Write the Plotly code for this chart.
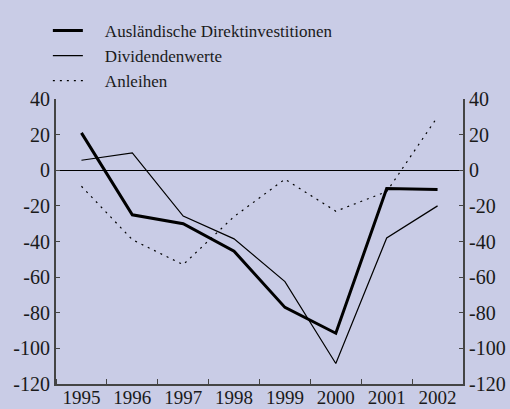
import plotly.graph_objects as go

years = [1995, 1996, 1997, 1998, 1999, 2000, 2001, 2002]
direktinvestitionen = [21, -25, -30, -45.5, -77, -91.5, -10.3, -10.8]
dividendenwerte = [5.6, 9.8, -25.7, -38.5, -62.5, -108.5, -38, -20]
anleihen = [-9, -39, -53, -26, -5, -23, -12, 30]

y_ticks = [40, 20, 0, -20, -40, -60, -80, -100, -120]
y_labels = [str(v) for v in y_ticks]  # plain hyphen for negatives

BG = "#c9cce6"
AXIS = "#444444"
FONT = "Liberation Serif, Times New Roman, serif"
PAD = "\u00a0\u00a0\u00a0\u00a0"

fig = go.Figure()
fig.add_trace(go.Scatter(x=years, y=direktinvestitionen, mode="lines",
                         name=PAD + "Ausländische Direktinvestitionen",
                         line=dict(color="black", width=3), legendgroup="a"))
fig.add_trace(go.Scatter(x=years, y=dividendenwerte, mode="lines",
                         name=PAD + "Dividendenwerte",
                         line=dict(color="black", width=1.2), legendgroup="b"))
fig.add_trace(go.Scatter(x=years, y=anleihen, mode="lines",
                         name=PAD + "Anleihen",
                         line=dict(color="black", width=1.2, dash="2px,5px"),
                         legendgroup="c"))
# anchors the right-hand value axis
fig.add_trace(go.Scatter(x=[years[0]], y=[None], yaxis="y2", mode="lines",
                         showlegend=False, hoverinfo="skip"))

tick_font = dict(family=FONT, size=20, color="#1a1a1a")
year_font = dict(family=FONT, size=19, color="#1a1a1a")

fig.update_layout(
    width=510, height=409,
    margin=dict(l=56, r=47, t=99, b=25, autoexpand=False),
    paper_bgcolor=BG, plot_bgcolor=BG,
    font=dict(family=FONT, size=17, color="#1a1a1a"),
    showlegend=True,
    legend=dict(x=-0.02, y=1.302, xanchor="left", yanchor="top",
                bgcolor="rgba(0,0,0,0)", font=dict(size=17),
                tracegroupgap=0, itemwidth=30),
    xaxis=dict(range=[1994.5, 2002.5], tickvals=years, ticktext=[str(y) for y in years],
               ticks="", showgrid=False, zeroline=False, tickfont=year_font,
               automargin=False, ticklabelstandoff=-5,
               showline=True, linecolor=AXIS, linewidth=2,
               minor=dict(tick0=1994.5, dtick=1, ticks="inside", ticklen=5,
                          tickcolor=AXIS, tickwidth=1, showgrid=False)),
    yaxis=dict(range=[-120, 40], tickvals=y_ticks, ticktext=y_labels,
               ticks="inside", ticklen=4, tickfont=tick_font, automargin=False,
               tickcolor=AXIS, showgrid=False, showline=True, linecolor=AXIS,
               linewidth=2, zeroline=True, zerolinecolor="black", zerolinewidth=1),
    yaxis2=dict(range=[-120, 40], tickvals=y_ticks, ticktext=y_labels,
                ticks="inside", ticklen=4, tickfont=tick_font, automargin=False,
                tickcolor=AXIS, showgrid=False, showline=True, linecolor=AXIS,
                linewidth=2, zeroline=False, overlaying="y", side="right"),
)

fig.write_html("out.html")
